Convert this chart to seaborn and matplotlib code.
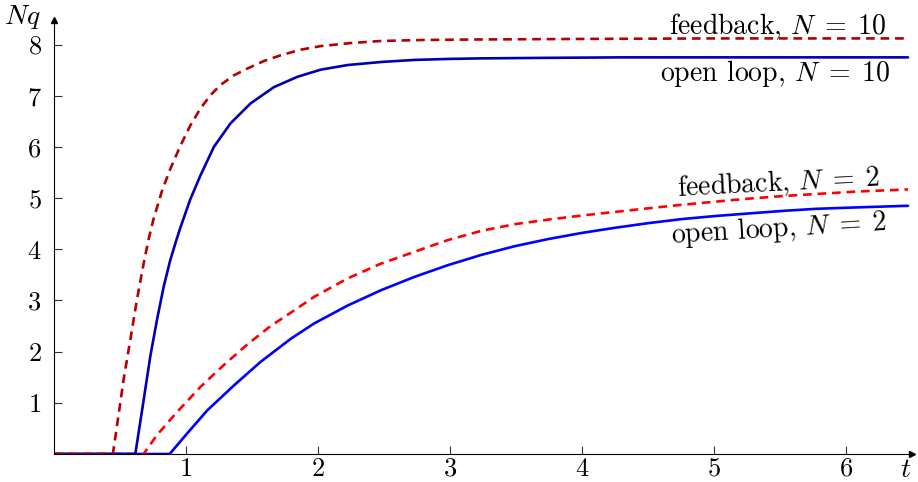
import numpy as np
import pandas as pd
import matplotlib
matplotlib.use('Agg')
import matplotlib.pyplot as plt
import seaborn as sns

# values
t_fb10 = [0.0, 0.446, 0.476, 0.527, 0.578, 0.628, 0.679, 0.717, 0.755, 0.818, 0.881, 0.957,
          1.033, 1.109, 1.185, 1.261, 1.363, 1.464, 1.591, 1.717, 1.869, 2.021, 2.25, 2.477,
          2.8, 3.237, 4.0, 5.0, 6.47]
q_fb10 = [0.0, 0.0, 0.53, 1.45, 2.23, 3.01, 3.72, 4.20, 4.60, 5.14, 5.57, 6.02,
          6.42, 6.75, 7.01, 7.21, 7.40, 7.53, 7.68, 7.79, 7.90, 7.97, 8.03, 8.07,
          8.09, 8.10, 8.11, 8.12, 8.12]

t_ol10 = [0.0, 0.616, 0.679, 0.729, 0.780, 0.831, 0.881, 0.927, 0.957, 1.033, 1.109, 1.211,
          1.337, 1.489, 1.667, 1.844, 2.021, 2.224, 2.48, 2.730, 3.0, 3.237, 3.7, 4.3, 5.0, 6.47]
q_ol10 = [0.0, 0.0, 1.05, 1.90, 2.62, 3.27, 3.79, 4.18, 4.42, 4.98, 5.44, 6.00,
          6.46, 6.85, 7.17, 7.37, 7.51, 7.60, 7.66, 7.70, 7.72, 7.73, 7.74, 7.75, 7.75, 7.75]

t_fb2 = [0.0, 0.679, 0.780, 0.932, 1.109, 1.287, 1.464, 1.641, 1.793, 1.970, 2.224, 2.477,
         2.730, 2.984, 3.237, 3.49, 3.744, 4.0, 4.25, 4.5, 4.757, 5.01, 5.264, 5.52, 5.77,
         6.1, 6.47]
q_fb2 = [0.0, 0.0, 0.37, 0.82, 1.31, 1.74, 2.14, 2.50, 2.76, 3.07, 3.43, 3.72,
         3.95, 4.18, 4.36, 4.49, 4.58, 4.66, 4.73, 4.80, 4.87, 4.93, 4.99, 5.04, 5.08,
         5.13, 5.17]

t_ol2 = [0.0, 0.876, 1.008, 1.160, 1.363, 1.565, 1.793, 1.970, 2.224, 2.477, 2.730, 2.984,
         3.237, 3.490, 3.744, 4.0, 4.25, 4.5, 4.757, 5.01, 5.264, 5.52, 5.77, 6.1, 6.47]
q_ol2 = [0.0, 0.0, 0.40, 0.85, 1.34, 1.80, 2.25, 2.55, 2.90, 3.20, 3.46, 3.69,
         3.89, 4.06, 4.20, 4.32, 4.42, 4.51, 4.59, 4.65, 4.70, 4.75, 4.79, 4.82, 4.85]

x_ticks = [1, 2, 3, 4, 5, 6]
y_ticks = [1, 2, 3, 4, 5, 6, 7, 8]

sns.set_theme(style="white")
plt.rcParams['font.family'] = 'serif'
plt.rcParams['font.serif'] = ['cmr10', 'DejaVu Serif']
plt.rcParams['mathtext.fontset'] = 'cm'
plt.rcParams['axes.formatter.use_mathtext'] = True
plt.rcParams['text.color'] = 'black'

fig = plt.figure(figsize=(9.18, 4.82), dpi=100)
ax = fig.add_axes([54 / 918, 28 / 482, 858 / 918, 434 / 482])

lw = 1.9
dash = (3.3, 2.2)
sns.lineplot(x=t_ol2, y=q_ol2, ax=ax, color='#0000ff', linewidth=lw, sort=False, estimator=None)
sns.lineplot(x=t_fb2, y=q_fb2, ax=ax, color='#ff0000', linewidth=lw, sort=False, estimator=None)
ax.lines[-1].set_dashes(dash)
sns.lineplot(x=t_ol10, y=q_ol10, ax=ax, color='#0000b3', linewidth=lw, sort=False, estimator=None)
sns.lineplot(x=t_fb10, y=q_fb10, ax=ax, color='#b30000', linewidth=lw, sort=False, estimator=None)
ax.lines[-1].set_dashes(dash)

ax.set_xlim(0, 6.5)
ax.set_ylim(0, 8.48)
ax.set_xticks(x_ticks)
ax.set_yticks(y_ticks)
ax.tick_params(direction='in', length=6, width=0.8, color='#333333', labelsize=19,
               labelcolor='black', bottom=True, left=True)
ax.tick_params(axis='x', pad=2)
ax.tick_params(axis='y', pad=9)

for side in ['top', 'right']:
    ax.spines[side].set_visible(False)
for side in ['left', 'bottom']:
    ax.spines[side].set_linewidth(0.8)
    ax.spines[side].set_color('black')

# axis arrows
ax.plot(1, 0, '>', color='black', markersize=5, transform=ax.transAxes, clip_on=False)
ax.plot(0, 1, '^', color='black', markersize=5, transform=ax.transAxes, clip_on=False)

fig.text(22 / 918, 1 - 17 / 482, '$Nq$', fontsize=20, ha='center', va='center')
fig.text(906 / 918, 1 - 470 / 482, '$t$', fontsize=20, ha='center', va='center')

fs = 20
ax.text(5.48, 8.34, r'feedback, $N\;=\;10$', fontsize=fs, ha='center', va='center')
ax.text(5.46, 7.44, r'open loop, $N\;=\;10$', fontsize=fs, ha='center', va='center')
ax.text(5.49, 5.29, r'feedback, $N\;=\;2$', fontsize=fs, ha='center', va='center', rotation=3)
ax.text(5.49, 4.39, r'open loop, $N\;=\;2$', fontsize=fs, ha='center', va='center', rotation=3.5)

fig.savefig('out.png', dpi=100)
